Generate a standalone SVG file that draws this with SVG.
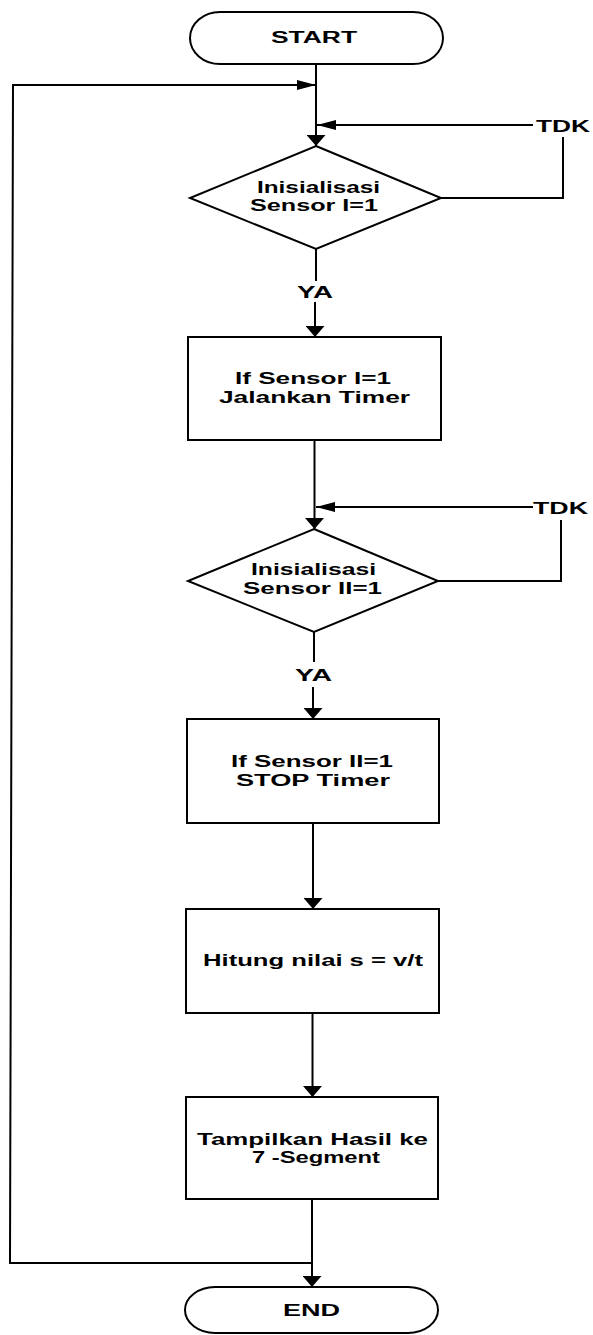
<svg xmlns="http://www.w3.org/2000/svg" width="593" height="1335" viewBox="0 0 593 1335">
<style>
.shape{fill:#fff;stroke:#000;stroke-width:2}
.ln{fill:none;stroke:#000;stroke-width:2}
.t{font-family:"Liberation Sans",Arial,sans-serif;font-weight:bold;font-size:16px;fill:#000}
</style>
<defs>
<marker id="arrV" markerUnits="userSpaceOnUse" markerWidth="11" markerHeight="19" refX="11" refY="9.5" orient="auto"><path d="M0,0 L11,9.5 L0,19 z" fill="#000"/></marker>
<marker id="arrH" markerUnits="userSpaceOnUse" markerWidth="19" markerHeight="10" refX="19" refY="5" orient="auto"><path d="M0,0 L19,5 L0,10 z" fill="#000"/></marker>
</defs>
<rect width="593" height="1335" fill="#fff"/>
<g id="connectors">
<path class="ln" d="M316,64 V146" marker-end="url(#arrV)"/>
<path class="ln" d="M312,1263 H10 L13,85 H316" marker-end="url(#arrH)"/>
<path class="ln" d="M441,198 H563 V137"/>
<path class="ln" d="M533,125 H317" marker-end="url(#arrH)"/>
<path class="ln" d="M316,249 V281"/>
<path class="ln" d="M315,302 V337" marker-end="url(#arrV)"/>
<path class="ln" d="M314.5,440 V529" marker-end="url(#arrV)"/>
<path class="ln" d="M438,581 H561 V520"/>
<path class="ln" d="M533,507 H316" marker-end="url(#arrH)"/>
<path class="ln" d="M314,632 V662"/>
<path class="ln" d="M313,687 V719" marker-end="url(#arrV)"/>
<path class="ln" d="M313,823 V909" marker-end="url(#arrV)"/>
<path class="ln" d="M312.5,1013 V1097" marker-end="url(#arrV)"/>
<path class="ln" d="M312,1199 V1287" marker-end="url(#arrV)"/>
</g>
<g id="start">
<rect class="shape" x="190" y="12" width="253" height="52" rx="30" ry="26"/>
<text class="t" x="271" y="43" textLength="86" lengthAdjust="spacingAndGlyphs">START</text>
</g>
<g id="decision1">
<polygon class="shape" points="316,146 441,198 316,249 190,198"/>
<text class="t" x="257" y="193" textLength="123" lengthAdjust="spacingAndGlyphs">Inisialisasi</text>
<text class="t" x="250" y="211" textLength="128" lengthAdjust="spacingAndGlyphs">Sensor I=1</text>
</g>
<g id="labels1">
<text class="t" x="536" y="132" textLength="54" lengthAdjust="spacingAndGlyphs">TDK</text>
<text class="t" x="297" y="298" textLength="36" lengthAdjust="spacingAndGlyphs">YA</text>
</g>
<g id="process1">
<rect class="shape" x="188" y="337" width="253" height="103"/>
<text class="t" x="235" y="384" textLength="156" lengthAdjust="spacingAndGlyphs">If Sensor I=1</text>
<text class="t" x="219" y="403" textLength="191" lengthAdjust="spacingAndGlyphs">Jalankan Timer</text>
</g>
<g id="decision2">
<polygon class="shape" points="314,529 438,581 314,632 188,581"/>
<text class="t" x="251" y="575" textLength="125" lengthAdjust="spacingAndGlyphs">Inisialisasi</text>
<text class="t" x="243" y="594" textLength="139" lengthAdjust="spacingAndGlyphs">Sensor II=1</text>
</g>
<g id="labels2">
<text class="t" x="533" y="514" textLength="55" lengthAdjust="spacingAndGlyphs">TDK</text>
<text class="t" x="295" y="681" textLength="37" lengthAdjust="spacingAndGlyphs">YA</text>
</g>
<g id="process2">
<rect class="shape" x="187" y="719" width="252" height="104"/>
<text class="t" x="231" y="767" textLength="162" lengthAdjust="spacingAndGlyphs">If Sensor II=1</text>
<text class="t" x="236" y="786" textLength="154" lengthAdjust="spacingAndGlyphs">STOP Timer</text>
</g>
<g id="process3">
<rect class="shape" x="186" y="909" width="253" height="104"/>
<text class="t" x="203" y="966" textLength="220" lengthAdjust="spacingAndGlyphs">Hitung nilai s = v/t</text>
</g>
<g id="process4">
<rect class="shape" x="186" y="1097" width="252" height="102"/>
<text class="t" x="197" y="1145" textLength="231" lengthAdjust="spacingAndGlyphs">Tampilkan Hasil ke</text>
<text class="t" x="252" y="1163" textLength="128" lengthAdjust="spacingAndGlyphs">7 -Segment</text>
</g>
<g id="end">
<rect class="shape" x="185" y="1287" width="253" height="46" rx="30" ry="23"/>
<text class="t" x="283" y="1316" textLength="57" lengthAdjust="spacingAndGlyphs">END</text>
</g>
</svg>
